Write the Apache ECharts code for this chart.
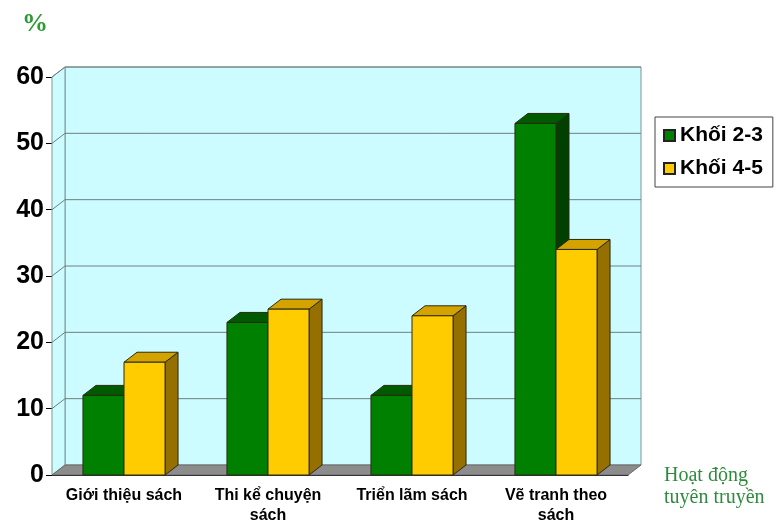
<!DOCTYPE html>
<html>
<head>
<meta charset="utf-8">
<script src="https://cdn.jsdelivr.net/npm/echarts@6/dist/echarts.min.js"></script>
<style>
  html, body { margin: 0; padding: 0; background: #fff; }
  #chart { width: 778px; height: 523px; }
</style>
</head>
<body>
<div id="chart"></div>
<script>
// data
const categories = ['Giới thiệu sách', 'Thi kể chuyện\nsách', 'Triển lãm sách', 'Vẽ tranh theo\nsách']
const khoi23 = [12, 23, 12, 53]
const khoi45 = [17, 25, 24, 34]
const yTicks = [0, 10, 20, 30, 40, 50, 60]

// 3d depth offset
const DX = 13
const DY = -10
const SANS = 'Liberation Sans, Arial, sans-serif'
const SERIF = 'Liberation Serif, Times New Roman, serif'

const chart = echarts.init(document.getElementById('chart'))

const renderWalls = (params, api) => {
  const cs = params.coordSys
  const x0 = cs.x
  const x1 = cs.x + cs.width
  const yb = api.coord([0, yTicks[0]])[1]
  const yt = api.coord([0, yTicks[yTicks.length - 1]])[1]
  const children = [
    {
      type: 'rect',
      shape: { x: x0 + DX, y: yt + DY, width: x1 - x0, height: yb - yt },
      style: { fill: '#ccfcff', stroke: '#7f9494', lineWidth: 1 }
    },
    {
      type: 'polygon',
      shape: { points: [[x0, yt], [x0 + DX, yt + DY], [x0 + DX, yb + DY], [x0, yb]] },
      style: { fill: '#ccfcff', stroke: '#7f9494', lineWidth: 1 }
    }
  ]
  yTicks.slice(1).forEach(v => {
    const y = api.coord([0, v])[1]
    children.push({
      type: 'polyline',
      shape: { points: [[x0, y], [x0 + DX, y + DY], [x1 + DX, y + DY]] },
      style: { stroke: '#6e7f7f', lineWidth: 1, fill: null }
    })
  })
  children.push({
    type: 'polygon',
    shape: { points: [[x0, yb], [x0 + DX, yb + DY], [x1 + DX, yb + DY], [x1, yb]] },
    style: { fill: '#8c8c8c', stroke: '#6a6a6a', lineWidth: 1 }
  })
  return { type: 'group', children }
}

const makeBarRender = (left, colors) => (params, api) => {
  const idx = api.value(0)
  const top = api.coord([idx, api.value(1)])
  const bot = api.coord([idx, 0])[1]
  const w = api.size([1, 0])[0] * 0.285
  const x = left ? top[0] - w : top[0]
  const y = top[1]
  const edge = { stroke: '#2a2a10', lineWidth: 1 }
  return {
    type: 'group',
    children: [
      {
        type: 'polygon',
        shape: { points: [[x + w, y], [x + w + DX, y + DY], [x + w + DX, bot + DY], [x + w, bot]] },
        style: Object.assign({ fill: colors[2] }, edge)
      },
      {
        type: 'polygon',
        shape: { points: [[x, y], [x + DX, y + DY], [x + w + DX, y + DY], [x + w, y]] },
        style: Object.assign({ fill: colors[1] }, edge)
      },
      {
        type: 'rect',
        shape: { x: x, y: y, width: w, height: bot - y },
        style: Object.assign({ fill: colors[0] }, edge)
      }
    ]
  }
}

const option = {
  animation: false,
  grid: { left: 52, right: 150, top: 77, bottom: 48, containLabel: false, outerBoundsMode: 'none' },
  legend: {
    data: ['Khối 2-3', 'Khối 4-5'],
    orient: 'vertical',
    left: 655,
    top: 117,
    icon: 'rect',
    itemWidth: 11,
    itemHeight: 11,
    itemGap: 12,
    padding: [8, 10, 8, 8],
    borderColor: '#444',
    borderWidth: 1,
    backgroundColor: '#fff',
    textStyle: { fontFamily: SANS, fontWeight: 'bold', fontSize: 21, color: '#000' }
  },
  graphic: [
    {
      type: 'text', left: 22, top: 11,
      style: { text: '%', font: 'bold 26px ' + SERIF, fill: '#2e9a35' }
    },
    {
      type: 'text', left: 664, top: 465,
      style: { text: 'Hoạt động\ntuyên truyền', font: '20px ' + SERIF, lineHeight: 22, fill: '#2e8b3e' }
    }
  ],
  xAxis: {
    type: 'category',
    data: categories,
    axisLine: { lineStyle: { color: '#000', width: 1 } },
    axisTick: { length: 7, lineStyle: { color: '#000' } },
    axisLabel: {
      interval: 0, margin: 11,
      fontFamily: SANS, fontWeight: 'bold', fontSize: 16, lineHeight: 20, color: '#000'
    }
  },
  yAxis: {
    type: 'value',
    min: yTicks[0],
    max: yTicks[yTicks.length - 1],
    interval: 10,
    axisLine: { show: true, lineStyle: { color: '#000', width: 1 } },
    axisTick: { show: true, length: 6, lineStyle: { color: '#000' } },
    splitLine: { show: false },
    axisLabel: { margin: 8, fontFamily: SANS, fontWeight: 'bold', fontSize: 25, color: '#000' }
  },
  series: [
    {
      name: 'walls',
      type: 'custom',
      silent: true,
      z: 1,
      renderItem: renderWalls,
      data: [[0, 0]]
    },
    {
      name: 'Khối 2-3',
      type: 'custom',
      z: 2,
      itemStyle: { color: '#008000', borderColor: '#222', borderWidth: 1 },
      renderItem: makeBarRender(true, ['#008000', '#005a00', '#004000']),
      data: khoi23.map((v, i) => [i, v])
    },
    {
      name: 'Khối 4-5',
      type: 'custom',
      z: 3,
      itemStyle: { color: '#ffcc00', borderColor: '#222', borderWidth: 1 },
      renderItem: makeBarRender(false, ['#ffcc00', '#d4a300', '#957000']),
      data: khoi45.map((v, i) => [i, v])
    }
  ]
}

chart.setOption(option)
</script>
</body>
</html>
